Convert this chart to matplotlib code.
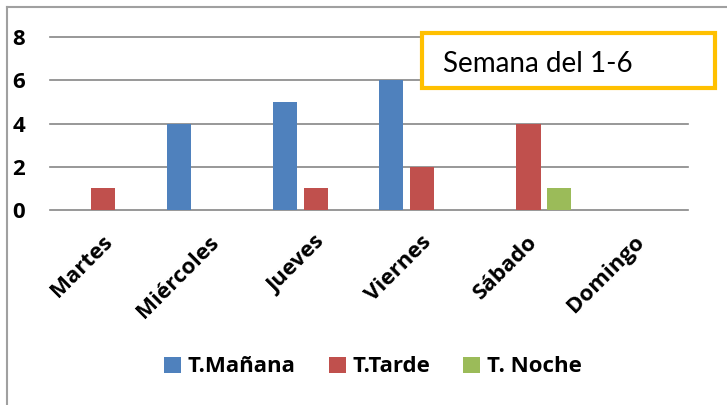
import matplotlib.pyplot as plt
from matplotlib.lines import Line2D
from matplotlib.patches import Rectangle
from matplotlib.transforms import ScaledTranslation
import numpy as np

days = ["Martes", "Miércoles", "Jueves", "Viernes", "Sábado", "Domingo"]
series_names = ["T.Mañana", "T.Tarde", "T. Noche"]
manana = [0, 4, 5, 6, 0, 0]
tarde = [1, 0, 1, 2, 4, 0]
noche = [0, 0, 0, 0, 1, 0]
colors = ["#4F81BD", "#C0504D", "#9BBB59"]
yticks = [0, 2, 4, 6, 8]
box_text = "Semana del 1-6"

W, H = 727, 405
fig = plt.figure(figsize=(W / 100, H / 100), dpi=100)
ax = fig.add_axes([50 / W, 1 - 210 / H, 638 / W, 173 / H])

bold = dict(family=["Open Sans", "DejaVu Sans"], weight="bold", size=16)

x = np.arange(len(days))
step = 0.29
width = 0.226
for k, vals in enumerate([manana, tarde, noche]):
    ax.bar(x + (k - 1) * step, vals, width, color=colors[k], label=series_names[k], zorder=3)

for yv in yticks:
    ax.axhline(yv, color="#868686", lw=1.2, zorder=1, clip_on=False)

ax.set_xlim(-0.5, len(days) - 0.5)
ax.set_ylim(0, 8)
for s in ax.spines.values():
    s.set_visible(False)
ax.tick_params(length=0)
ax.set_yticks(yticks)
ax.set_yticklabels([str(v) for v in yticks], fontdict=bold)
ax.tick_params(axis="y", pad=18)
ax.set_xticks(x)
ax.set_xticklabels(days, fontdict=bold, rotation=45, ha="right", va="center",
                   rotation_mode="anchor")
ax.tick_params(axis="x", pad=21)
shift = ScaledTranslation(6 / 100, 0, fig.dpi_scale_trans)
for lab in ax.get_xticklabels():
    lab.set_transform(lab.get_transform() + shift)

# chart frame (left and top edge visible)
fig.add_artist(Line2D([7 / W, 7 / W], [0, 1 - 7 / H], color="#A0A0A0", lw=1.5))
fig.add_artist(Line2D([7 / W, 1], [1 - 7 / H, 1 - 7 / H], color="#A0A0A0", lw=1.5))

# title box
fig.add_artist(Rectangle((422 / W, 1 - 88 / H), 293 / W, 55 / H, transform=fig.transFigure,
                         facecolor="white", edgecolor="#FFC000", lw=3, zorder=5))
fig.text(443 / W, 1 - 72 / H, box_text, family=["Lato", "DejaVu Sans"], size=20,
         va="baseline", ha="left", zorder=6)

leg = fig.legend(loc="center", bbox_to_anchor=(373 / W, 1 - 367 / H), ncol=3,
                 frameon=False, prop=dict(family=["Open Sans", "DejaVu Sans"], weight="bold", size=16),
                 handlelength=0.75, handleheight=0.75, handletextpad=0.3, columnspacing=1.5)

fig.savefig("out.png", dpi=100)
